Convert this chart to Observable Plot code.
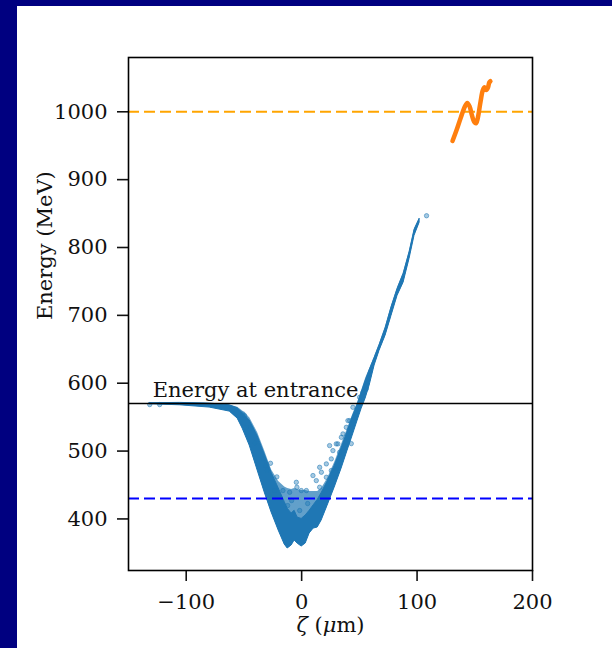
<!DOCTYPE html>
<html>
<head>
<meta charset="utf-8">
<script src="https://cdn.jsdelivr.net/npm/d3@7"></script>
<script src="https://cdn.jsdelivr.net/npm/@observablehq/plot@0.6"></script>
<style>
  html, body { margin: 0; padding: 0; background: #fff; }
  #page { position: relative; width: 612px; height: 648px; overflow: hidden; background: #fff; }
  #page svg { position: absolute; left: 0; top: 0; }
  .band-top { position: absolute; left: 0; top: 0; width: 612px; height: 6px; background: #000080; z-index: 2; }
  .band-left { position: absolute; left: 0; top: 0; width: 17px; height: 648px; background: #000080; z-index: 2; }
</style>
</head>
<body>
<div id="page"><div class="band-top"></div><div class="band-left"></div></div>
<script>
// Trailing bunch: energy envelope of the particle cloud along ζ (µm, MeV)
const bandZeta = [-131.6, -105.6, -79.7, -62.3, -55.4, -51.1, -45.0, -38.1, -32.0, -26.0,
                  -19.9, -14.7, -12.1, -8.7, -6.1, -3.5, 0, 3.5, 6.9, 10.4,
                  13.9, 17.3, 22.5, 28.6, 34.6, 39.8, 44.2, 48.5, 52.0, 55.4,
                  58.9, 63.2, 67.5, 72.7, 77.9, 83.1, 88.3, 93.5, 97.8, 102.2];
const bandLow  = [569.0, 567.5, 564.1, 558.2, 547.8, 533.1, 508.1, 471.3, 438.9, 409.4,
                  382.9, 362.3, 356.4, 360.8, 368.2, 363.7, 359.3, 363.7, 378.5, 385.8,
                  387.3, 397.6, 419.7, 446.2, 474.2, 500.7, 522.8, 544.9, 562.6, 577.3,
                  596.5, 626.1, 648.0, 670.1, 699.6, 729.0, 748.2, 783.5, 817.4, 836.5];
const bandCore = [570.5, 571.0, 570.0, 567.5, 563.0, 556.0, 545.0, 522.0, 495.0, 468.0,
                  445.0, 425.0, 415.0, 408.0, 412.0, 402.0, 400.0, 405.0, 412.0, 420.0,
                  428.0, 438.0, 455.0, 478.0, 504.0, 528.0, 550.0, 568.0, 586.0, 603.0,
                  619.0, 637.0, 656.0, 681.0, 712.0, 739.0, 761.0, 793.0, 826.0, 842.4];
const bandHigh = [570.5, 571.0, 570.0, 567.5, 564.5, 559.0, 549.0, 527.0, 500.0, 472.0,
                  455.0, 447.0, 444.8, 443.3, 444.8, 443.3, 441.8, 441.8, 440.3, 440.3,
                  440.3, 444.8, 459.5, 483.1, 509.6, 533.1, 553.7, 571.4, 589.1, 606.8,
                  621.5, 639.2, 658.3, 683.3, 714.3, 740.8, 762.9, 795.3, 827.7, 842.4];

// Isolated macro-particles outside the dense core
const strayZeta   = [-131.6, -123.0, -50.8, -49.4, -47.9, -33.5, -31.2, -30.0, -23.4, -16.2,
                     -12.1, -10.4, -8.7, -4.6, -4.1, -1.7, -0.3, 4.1, 5.2, 9.8,
                     12.7, 15.6, 15.6, 17.1, 21.4, 21.4, 24.2, 25.7, 25.7, 27.1,
                     30.0, 30.0, 31.4, 32.9, 34.4, 35.8, 38.7, 40.1, 41.6, 43.0,
                     44.4, 50.2, 53.1, 56.0, 108.2, -27.0, -21.5, -44.0, -40.5];
const strayEnergy = [568.5, 568.5, 554.8, 552.3, 535.0, 488.5, 478.6, 471.3, 441.8, 441.8,
                     419.7, 439.3, 427.1, 454.0, 446.7, 412.4, 441.8, 441.8, 422.7, 463.9,
                     456.5, 446.7, 476.1, 468.8, 481.1, 461.4, 508.1, 488.5, 471.3, 500.7,
                     473.8, 510.6, 510.6, 498.2, 520.3, 525.3, 535.0, 544.9, 544.9, 511.0,
                     564.5, 579.2, 586.6, 591.6, 846.8, 482.0, 462.0, 534.0, 512.0];

// Leading bunch
const leadZeta   = [130.7, 134.0, 138.0, 141.5, 143.5, 145.5, 147.5, 149.5, 151.0, 152.5,
                    155.0, 157.0, 158.5, 160.0, 161.5, 162.5, 163.5];
const leadEnergy = [957, 972, 992, 1008, 1013, 1008, 995, 985, 983, 990,
                    1015, 1032, 1036, 1032, 1036, 1043, 1045];

// Reference energy levels
const entranceEnergy = 570;
const leadTarget = 1000;
const trailFloor = 430;

const xTicks = [-100, 0, 100, 200];
const yTicks = [400, 500, 600, 700, 800, 900, 1000];
const xLabel = "ζ (μm)";
const yLabel = "Energy (MeV)";
const entranceLabel = "Energy at entrance";

const band = bandZeta.map((z, i) => ({zeta: z, low: bandLow[i], core: bandCore[i], high: bandHigh[i]}));
const stray = strayZeta.map((z, i) => ({zeta: z, energy: strayEnergy[i]}));
const lead = leadZeta.map((z, i) => ({zeta: z, energy: leadEnergy[i]}));

const blue = "#1f77b4";
const plain = d => d < 0 ? "\u2212" + Math.abs(d) : String(d);

const svg = Plot.plot({
  width: 612,
  height: 648,
  marginLeft: 128,
  marginRight: 80,
  marginTop: 57,
  marginBottom: 78,
  style: {fontFamily: "'DejaVu Serif', serif", fontSize: "21px", color: "#111", background: "transparent"},
  x: {domain: [-150, 200]},
  y: {domain: [324, 1080]},
  marks: [
    Plot.areaY(band, {x: "zeta", y1: "low", y2: "high", fill: blue, fillOpacity: 0.7}),
    Plot.areaY(band, {x: "zeta", y1: "low", y2: "core", fill: blue, stroke: blue, strokeWidth: 1}),
    Plot.dot(stray, {x: "zeta", y: "energy", r: 2.2, fill: blue, fillOpacity: 0.4, stroke: blue, strokeOpacity: 0.75, strokeWidth: 0.7}),
    Plot.ruleY([leadTarget], {stroke: "orange", strokeWidth: 2, strokeDasharray: "11 5"}),
    Plot.ruleY([trailFloor], {stroke: "blue", strokeWidth: 2, strokeDasharray: "11 5"}),
    Plot.ruleY([entranceEnergy], {stroke: "#000", strokeWidth: 1.5}),
    Plot.text([{zeta: -129, energy: 579, label: entranceLabel}], {x: "zeta", y: "energy", text: "label", textAnchor: "start", lineAnchor: "bottom", fill: "#111"}),
    Plot.line(lead, {x: "zeta", y: "energy", stroke: "#ff7f0e", strokeWidth: 4.5, curve: "catmull-rom", strokeLinecap: "round"}),
    Plot.axisX(xTicks, {tickSize: 11, tickPadding: 13, tickFormat: plain, label: null, strokeWidth: 1.6}),
    Plot.axisY(yTicks, {tickSize: 11, tickPadding: 10, tickFormat: plain, label: null, strokeWidth: 1.6}),
    Plot.text([yLabel], {text: d => d, frameAnchor: "left", rotate: -90, dx: -77, dy: 6, lineAnchor: "bottom", fill: "#111"}),
    Plot.text([xLabel], {text: d => d, frameAnchor: "bottom", dy: 61, lineAnchor: "bottom", fill: "#111"}),
    Plot.frame({stroke: "#000", strokeWidth: 1.6})
  ]
});

// Math-style italics for the Greek symbols in the ζ axis label
d3.select(svg).selectAll("text").filter(function () { return this.textContent === xLabel; }).each(function () {
  const t = d3.select(this);
  t.text(null);
  t.append("tspan").attr("font-style", "italic").text("ζ");
  t.append("tspan").text(" (");
  t.append("tspan").attr("font-style", "italic").text("μ");
  t.append("tspan").text("m)");
});

document.getElementById("page").appendChild(svg);
</script>
</body>
</html>
